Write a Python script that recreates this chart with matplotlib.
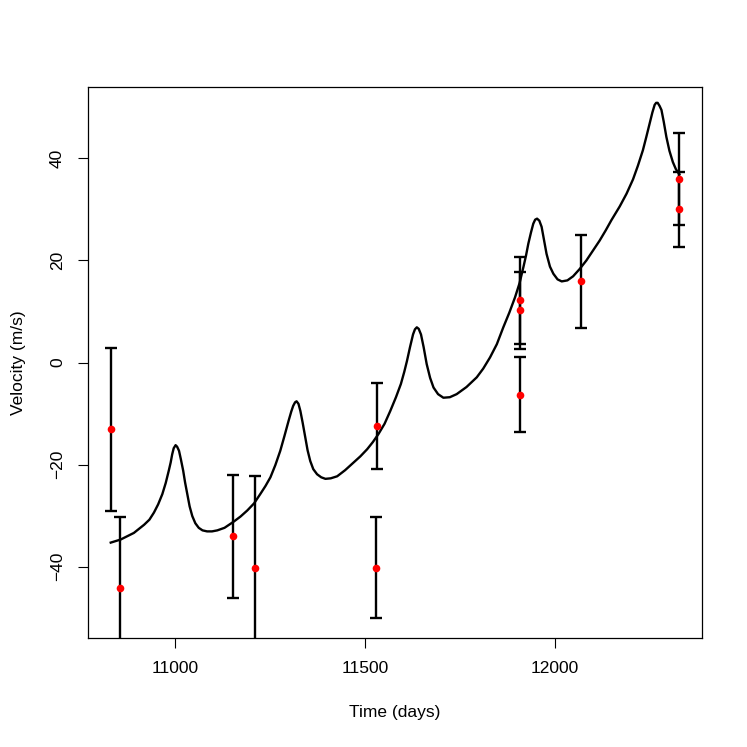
import numpy as np
import matplotlib
matplotlib.use("Agg")
import matplotlib.pyplot as plt

plt.rcParams['font.family'] = ['Liberation Sans', 'DejaVu Sans']

# observations (time in days, velocity in m/s, 1-sigma error)
obs_time = [10830, 10854, 11153, 11210, 11533, 11530, 11908, 11909, 11910, 12069, 12328, 12329]
obs_vel = [-13.1, -44.2, -34.1, -40.2, -12.5, -40.2, 12.2, 10.2, -6.3, 15.9, 36.0, 30.0]
obs_err = [16.0, 14.0, 12.0, 18.0, 8.4, 9.9, 8.5, 7.5, 7.3, 9.1, 9.0, 7.4]

# fitted model curve
fit_time = [10830, 10856, 10891, 10918, 10932, 10944, 10955, 10966, 10975, 10983,
            10988, 10992, 10996, 11001, 11005, 11010, 11015, 11021, 11026, 11032,
            11038, 11045, 11053, 11062, 11072, 11084, 11097, 11111, 11130, 11154,
            11172, 11190, 11208, 11225, 11238, 11251, 11264, 11277, 11288, 11299,
            11306, 11311, 11316, 11320, 11325, 11330, 11336, 11343, 11349, 11356,
            11364, 11374, 11385, 11396, 11410, 11427, 11448, 11470, 11488, 11506,
            11521, 11536, 11552, 11567, 11582, 11595, 11604, 11611, 11619, 11627,
            11632, 11637, 11642, 11648, 11655, 11663, 11672, 11681, 11693, 11707,
            11724, 11742, 11768, 11795, 11812, 11830, 11848, 11865, 11881, 11896,
            11908, 11918, 11925, 11931, 11938, 11944, 11949, 11954, 11960, 11966,
            11972, 11979, 11988, 11997, 12008, 12019, 12034, 12049, 12066, 12084,
            12101, 12119, 12135, 12150, 12172, 12190, 12207, 12220, 12233, 12242,
            12251, 12258, 12264, 12268, 12272, 12277, 12282, 12288, 12295, 12303,
            12312, 12320, 12329]
fit_vel = [-35.3, -34.7, -33.4, -31.8, -30.8, -29.4, -27.8, -25.8, -23.6, -21.2,
           -19.6, -18.0, -16.8, -16.2, -16.5, -17.3, -19.0, -21.2, -23.5, -25.8,
           -28.2, -30.1, -31.5, -32.4, -32.9, -33.1, -33.1, -32.9, -32.4, -31.2,
           -30.2, -29.0, -27.6, -25.7, -24.2, -22.5, -20.1, -17.3, -14.4, -11.4,
           -9.6, -8.5, -7.8, -7.6, -8.1, -9.5, -11.8, -14.7, -17.2, -19.3,
           -20.9, -21.9, -22.5, -22.8, -22.7, -22.3, -21.1, -19.6, -18.4, -17.0,
           -15.6, -14.0, -12.0, -9.5, -6.8, -4.2, -1.8, 0.3, 3.0, 5.5,
           6.5, 6.9, 6.6, 5.5, 3.0, -0.3, -3.0, -4.9, -6.2, -6.9,
           -6.8, -6.2, -4.8, -2.9, -1.2, 1.0, 3.6, 6.9, 9.8, 12.8,
           15.6, 18.7, 21.0, 23.3, 25.5, 27.2, 28.0, 28.2, 27.8, 26.6,
           24.2, 21.3, 18.8, 17.4, 16.3, 15.9, 16.1, 16.9, 18.3, 20.0,
           21.9, 23.9, 25.9, 27.9, 30.6, 33.1, 35.9, 38.6, 41.6, 44.2,
           46.9, 49.0, 50.5, 50.9, 50.9, 50.3, 49.5, 47.2, 44.2, 41.5,
           39.3, 37.9, 36.9]

fig = plt.figure(figsize=(7.47, 7.47), dpi=100)
ax = fig.add_axes([0.1178, 0.1459, 0.8220, 0.7376])

ax.plot(fit_time, fit_vel, color='black', linewidth=1.7, zorder=2,
        solid_joinstyle='round')
ax.errorbar(obs_time, obs_vel, yerr=obs_err, fmt='none', ecolor='black',
            elinewidth=1.7, capsize=4.5, capthick=1.7, zorder=3)
ax.plot(obs_time, obs_vel, 'o', color='#ff0000', markersize=5.5,
        markeredgewidth=0, zorder=4)

span = max(obs_time) - min(obs_time)
ax.set_xlim(min(obs_time) - 0.04 * span, max(obs_time) + 0.04 * span)
ax.set_ylim(-54, 54)
ax.set_xticks([11000, 11500, 12000])
ax.set_yticks([-40, -20, 0, 20, 40])
ax.tick_params(direction='out', length=7.5, width=0.8, labelsize=12.5, pad=9)
for lab in ax.get_yticklabels():
    lab.set_rotation(90)
    lab.set_va('center')
for s in ax.spines.values():
    s.set_linewidth(0.9)

ax.set_xlabel('Time (days)', fontsize=12.5, labelpad=21)
ax.set_ylabel('Velocity (m/s)', fontsize=12.5, labelpad=17)

fig.savefig('out.png', dpi=100)
